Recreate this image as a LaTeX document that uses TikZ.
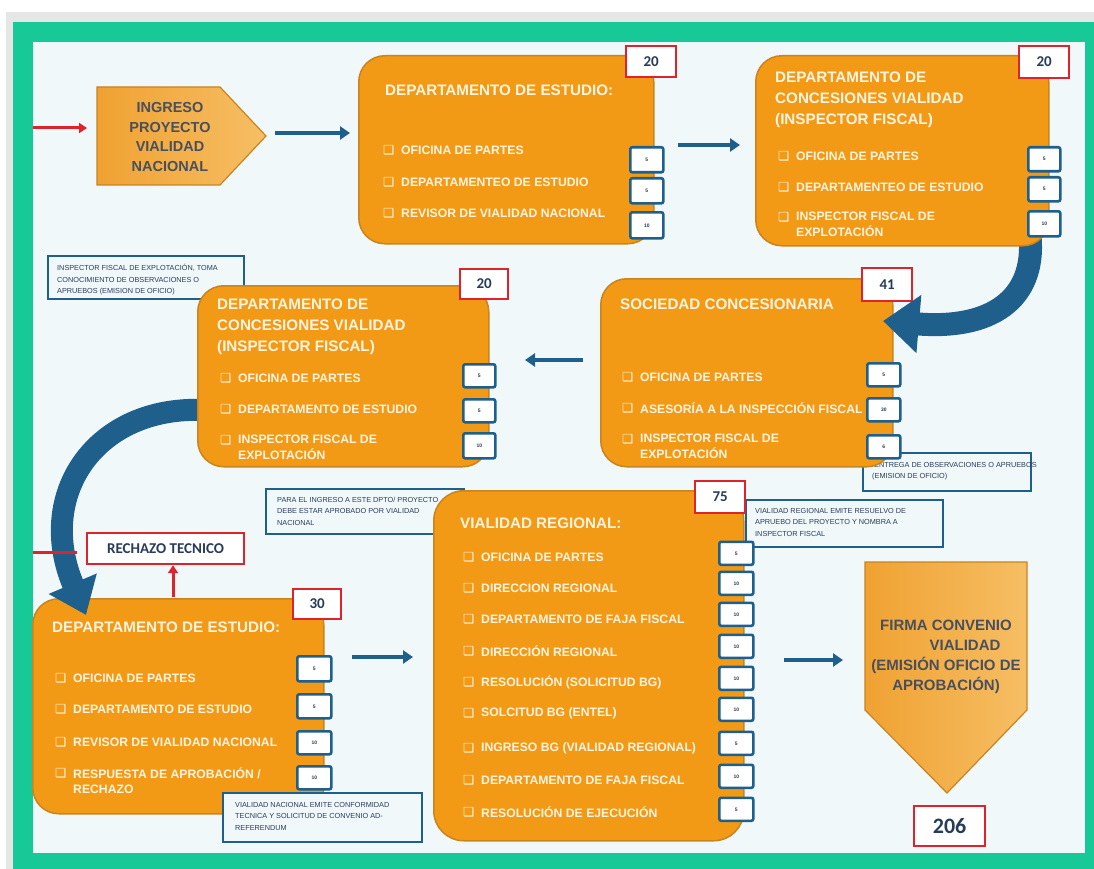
\documentclass[tikz,border=0pt]{standalone}
\usepackage{fontspec}
\setmainfont{Liberation Sans}
\newfontfamily\calf{Carlito}
\newfontfamily\dvf{DejaVu Sans}
\usetikzlibrary{arrows.meta,calc}
\definecolor{frameg}{RGB}{22,201,150}
\definecolor{outerg}{RGB}{230,230,230}
\definecolor{innerbg}{RGB}{241,248,250}
\definecolor{orng}{RGB}{242,154,22}
\definecolor{oedge}{RGB}{200,132,30}
\definecolor{nblue}{RGB}{30,95,140}
\definecolor{rred}{RGB}{222,35,45}
\definecolor{cream}{RGB}{255,244,224}
\definecolor{slate}{RGB}{72,80,95}
\definecolor{numtxt}{RGB}{40,60,90}
\definecolor{pentl}{RGB}{240,162,50}
\definecolor{pentr}{RGB}{246,190,100}
\tikzset{
  obox/.style={draw=oedge, fill=orng, line width=1.5pt, rounded corners=26pt, anchor=north west, inner sep=0pt},
  ttl/.style={anchor=west, text=cream, font=\bfseries\fontsize{15.2}{21}\selectfont, align=left, inner sep=0pt},
  itm/.style={anchor=west, text=cream, font=\bfseries\fontsize{12.2}{15.5}\selectfont, align=left, inner sep=0pt},
  bul/.style={anchor=west, text=cream, font=\dvf\fontsize{12.5}{12.5}\selectfont, inner sep=0pt},
  nbox/.style={draw=nblue, fill=white, line width=2.6pt, rounded corners=2pt, anchor=north west, inner sep=0pt, font=\bfseries\fontsize{5}{5}\selectfont, text=numtxt},
  rbox/.style={draw=rred, fill=white, line width=2.2pt, anchor=north west, inner sep=0pt, font=\calf\bfseries\fontsize{15}{15}\selectfont, text=numtxt},
  notebox/.style={draw=nblue, fill=innerbg, line width=2.4pt, anchor=north west, inner sep=0pt},
  notetxt/.style={anchor=west, text=numtxt, font=\fontsize{7.3}{11.5}\selectfont, align=left, inner sep=0pt},
  pent/.style={draw=oedge, line width=1.2pt, left color=pentl, right color=pentr},
  penttxt/.style={text=slate, font=\bfseries\fontsize{14.5}{19.5}\selectfont, align=center, inner sep=0pt},
  barrow/.style={draw=nblue, line width=3.6pt, -{Triangle[length=10pt,width=13pt]}},
  bigarrow/.style={draw=nblue, line width=23pt, -{Triangle[length=36pt,width=56pt]}},
  rarrow/.style={draw=rred, line width=3pt, -{Triangle[length=8pt,width=10pt]}},
}
\newcommand\bitem[4]{\node[bul] (#1b) at (#2,#3) {❑};\node[itm] (#1) at ($(#2,#3)+(18,0)$) {#4};}
\newcommand\bitemtwo[4]{\node[bul] (#1b) at (#2,#3) {❑};\node[itm] (#1) at ($(#2,#3)+(18,7.5)$) {#4};}
\newcommand\numb[6]{\node[nbox, minimum width=#4pt, minimum height=#5pt] (#1) at (#2,#3) {#6};}
\begin{document}
\begin{tikzpicture}[x=1pt,y=-1pt]
\useasboundingbox (0,0) rectangle (1094,869);
\fill[white] (0,0) rectangle (1094,869);
\fill[outerg] (6,12) rectangle (1094,869);
\fill[frameg] (13,22) rectangle (1094,869);
\fill[innerbg] (33,42) rectangle (1085,853);

% ---- notes (under the boxes)
\node[notebox, minimum width=196pt, minimum height=43pt] (n1) at (47,255) {};
\node[notetxt] (n1t) at (57,280) {INSPECTOR FISCAL DE EXPLOTACIÓN, TOMA\\CONOCIMIENTO DE OBSERVACIONES O\\APRUEBOS (EMISION DE OFICIO)};
\node[notebox, minimum width=198pt, minimum height=45pt] (n2) at (265,488) {};
\node[notetxt] (n2t) at (277,511) {PARA EL INGRESO A ESTE DPTO/ PROYECTO\\DEBE ESTAR APROBADO POR VIALIDAD\\NACIONAL};
\node[notebox, minimum width=168pt, minimum height=38pt] (n3) at (862,452) {};
\node[notetxt] (n3t) at (872,471) {\ ENTREGA DE OBSERVACIONES O APRUEBOS\\(EMISION DE OFICIO)};
\node[notebox, minimum width=197pt, minimum height=47pt] (n4) at (745,499) {};
\node[notetxt] (n4t) at (755,522) {VIALIDAD REGIONAL EMITE RESUELVO DE\\APRUEBO DEL PROYECTO Y NOMBRA A\\INSPECTOR FISCAL};

% ---- A: ingreso
\path[pent] (97,87) -- (220,87) -- (266,136) -- (220,185) -- (97,185) -- cycle;
\node[penttxt] (A) at (170,137) {INGRESO\\PROYECTO\\VIALIDAD\\NACIONAL};
\coordinate (rin) at (33,128);
\coordinate (rinend) at (87,128);
\draw[rarrow] (rin) -- (rinend);
\coordinate (ab1) at (275,133);
\coordinate (ab2) at (350,133);
\draw[barrow] (ab1) -- (ab2);

% ---- B
\node[obox, minimum width=295pt, minimum height=188pt] (B) at (358,55) {};
\node[ttl] (Bt) at (385,90) {DEPARTAMENTO DE ESTUDIO:};
\bitem{B1}{383}{150}{OFICINA DE PARTES}
\bitem{B2}{383}{182}{DEPARTAMENTEO DE ESTUDIO}
\bitem{B3}{383}{213}{REVISOR DE VIALIDAD NACIONAL}
\numb{Bn1}{629}{146}{33}{25}{5}
\numb{Bn2}{629}{177}{33}{25}{5}
\numb{Bn3}{629}{211}{33}{26}{10}
\node[rbox, minimum width=50pt, minimum height=31pt] (Br) at (625,45) {20};
\coordinate (bc1) at (678,145);
\coordinate (bc2) at (740,145);
\draw[barrow] (bc1) -- (bc2);

% ---- D (before C so the arrow comes from behind C)
\node[obox, minimum width=292pt, minimum height=188pt] (D) at (600,278) {};
\node[ttl] (Dt) at (620,304) {SOCIEDAD CONCESIONARIA};
\bitem{D1}{622}{377}{OFICINA DE PARTES}
\bitem{D2}{622}{408}{ASESORÍA A LA INSPECCIÓN FISCAL}
\bitemtwo{D3}{622}{439}{INSPECTOR FISCAL DE\\EXPLOTACIÓN}
\numb{Dn1}{866}{362}{33}{23}{5}
\numb{Dn2}{866}{397}{33}{23}{30}
\numb{Dn3}{866}{434}{33}{23}{6}
\node[rbox, minimum width=50pt, minimum height=33pt] (Dr) at (861,267) {41};

% curved arrow C -> D
\coordinate (cd1) at (1030,236);
\coordinate (cd2) at (883,321);
\draw[bigarrow] (cd1) .. controls (1036,300) and (990,330) .. (cd2);

% ---- C
\node[obox, minimum width=293pt, minimum height=190pt] (C) at (755,55) {};
\node[ttl] (Ct) at (775,100) {DEPARTAMENTO DE\\CONCESIONES VIALIDAD\\(INSPECTOR FISCAL)};
\bitem{C1}{778}{156}{OFICINA DE PARTES}
\bitem{C2}{778}{187}{DEPARTAMENTEO DE ESTUDIO}
\bitemtwo{C3}{778}{217}{INSPECTOR FISCAL DE\\EXPLOTACIÓN}
\numb{Cn1}{1027}{146}{32}{24}{5}
\numb{Cn2}{1027}{176}{32}{24}{5}
\numb{Cn3}{1027}{210}{32}{25}{10}
\node[rbox, minimum width=50pt, minimum height=32pt] (Cr) at (1018,45) {20};

\coordinate (de1) at (583,360);
\coordinate (de2) at (525,360);
\draw[barrow] (de1) -- (de2);

% ---- F (before E so the arrow comes from behind E)
\node[obox, minimum width=291pt, minimum height=215pt] (F) at (32,598) {};
\node[ttl] (Ft) at (52,627) {DEPARTAMENTO DE ESTUDIO:};
\bitem{F1}{55}{678}{OFICINA DE PARTES}
\bitem{F2}{55}{709}{DEPARTAMENTO DE ESTUDIO}
\bitem{F3}{55}{742}{REVISOR DE VIALIDAD NACIONAL}
\bitemtwo{F4}{55}{773}{RESPUESTA DE APROBACIÓN /\\RECHAZO}
\numb{Fn1}{296}{655}{34}{25}{5}
\numb{Fn2}{296}{693}{34}{24}{5}
\numb{Fn3}{296}{730}{34}{23}{10}
\numb{Fn4}{296}{765}{34}{23}{10}
\node[rbox, minimum width=48pt, minimum height=30pt] (Fr) at (292,588) {30};

% curved arrow E -> F
\coordinate (ef1) at (205,410);
\coordinate (ef2) at (86,615);
\draw[bigarrow, line width=22pt, -{Triangle[length=34pt,width=50pt]}] (ef1) .. controls (95,405) and (35,495) .. (ef2);

% ---- E
\node[obox, minimum width=291pt, minimum height=181pt] (E) at (197,285) {};
\node[ttl] (Et) at (217,326.5) {DEPARTAMENTO DE\\CONCESIONES VIALIDAD\\(INSPECTOR FISCAL)};
\bitem{E1}{220}{378}{OFICINA DE PARTES}
\bitem{E2}{220}{409}{DEPARTAMENTO DE ESTUDIO}
\bitemtwo{E3}{220}{440}{INSPECTOR FISCAL DE\\EXPLOTACIÓN}
\numb{En1}{462}{363}{32}{23}{5}
\numb{En2}{462}{398}{32}{23}{5}
\numb{En3}{462}{432}{32}{25}{10}
\node[rbox, minimum width=48pt, minimum height=30pt] (Er) at (459,268) {20};

% ---- rechazo
\node[rbox, minimum width=157pt, minimum height=31pt] (R) at (86,532) {RECHAZO TECNICO};
\coordinate (rl1) at (33,552);
\coordinate (rl2) at (77,552);
\draw[draw=rred, line width=3pt] (rl1) -- (rl2);
\coordinate (ru1) at (173,597);
\draw[rarrow] (ru1) -- (ru1 |- R.south);

\coordinate (fg1) at (352,657);
\coordinate (fg2) at (413,657);
\draw[barrow] (fg1) -- (fg2);

% note over F
\node[notebox, minimum width=199pt, minimum height=49pt] (n5) at (222,792) {};
\node[notetxt] (n5t) at (235,816) {VIALIDAD NACIONAL EMITE CONFORMIDAD\\TECNICA Y SOLICITUD DE CONVENIO AD-\\REFERENDUM};

% ---- G
\node[obox, minimum width=310pt, minimum height=350pt, rounded corners=30pt] (G) at (433,490) {};
\node[ttl] (Gt) at (460,523) {VIALIDAD REGIONAL:};
\bitem{G1}{463}{557}{OFICINA DE PARTES}
\bitem{G2}{463}{588}{DIRECCION REGIONAL}
\bitem{G3}{463}{619}{DEPARTAMENTO DE FAJA FISCAL}
\bitem{G4}{463}{651}{DIRECCIÓN REGIONAL}
\bitem{G5}{463}{682}{RESOLUCIÓN (SOLICITUD BG)}
\bitem{G6}{463}{713}{SOLCITUD BG (ENTEL)}
\bitem{G7}{463}{748}{INGRESO BG (VIALIDAD REGIONAL)}
\bitem{G8}{463}{780}{DEPARTAMENTO DE FAJA FISCAL}
\bitem{G9}{463}{812}{RESOLUCIÓN DE EJECUCIÓN}
\numb{Gn1}{718}{540.5}{34}{23}{5}
\numb{Gn2}{718}{570.5}{34}{23}{10}
\numb{Gn3}{718}{601.5}{34}{23}{10}
\numb{Gn4}{718}{633.5}{34}{23}{10}
\numb{Gn5}{718}{665.5}{34}{23}{10}
\numb{Gn6}{718}{696.5}{34}{23}{10}
\numb{Gn7}{718}{730.5}{34}{23}{5}
\numb{Gn8}{718}{763.5}{34}{23}{10}
\numb{Gn9}{718}{796.5}{34}{23}{5}
\node[rbox, minimum width=50pt, minimum height=32pt] (Gr) at (694,480) {75};

\coordinate (gh1) at (784,660);
\coordinate (gh2) at (843,660);
\draw[barrow] (gh1) -- (gh2);

% ---- H: firma
\path[pent] (865,562) -- (1027,562) -- (1027,710) -- (947,793) -- (865,710) -- cycle;
\node[penttxt, font=\bfseries\fontsize{15}{20}\selectfont] (H) at (946,657) {FIRMA CONVENIO\\\hspace*{38pt}VIALIDAD\\(EMISIÓN OFICIO DE\\APROBACIÓN)};
\node[rbox, minimum width=71pt, minimum height=40pt, font=\calf\bfseries\fontsize{22}{22}\selectfont] (T) at (913,805) {206};
\end{tikzpicture}
\end{document}
